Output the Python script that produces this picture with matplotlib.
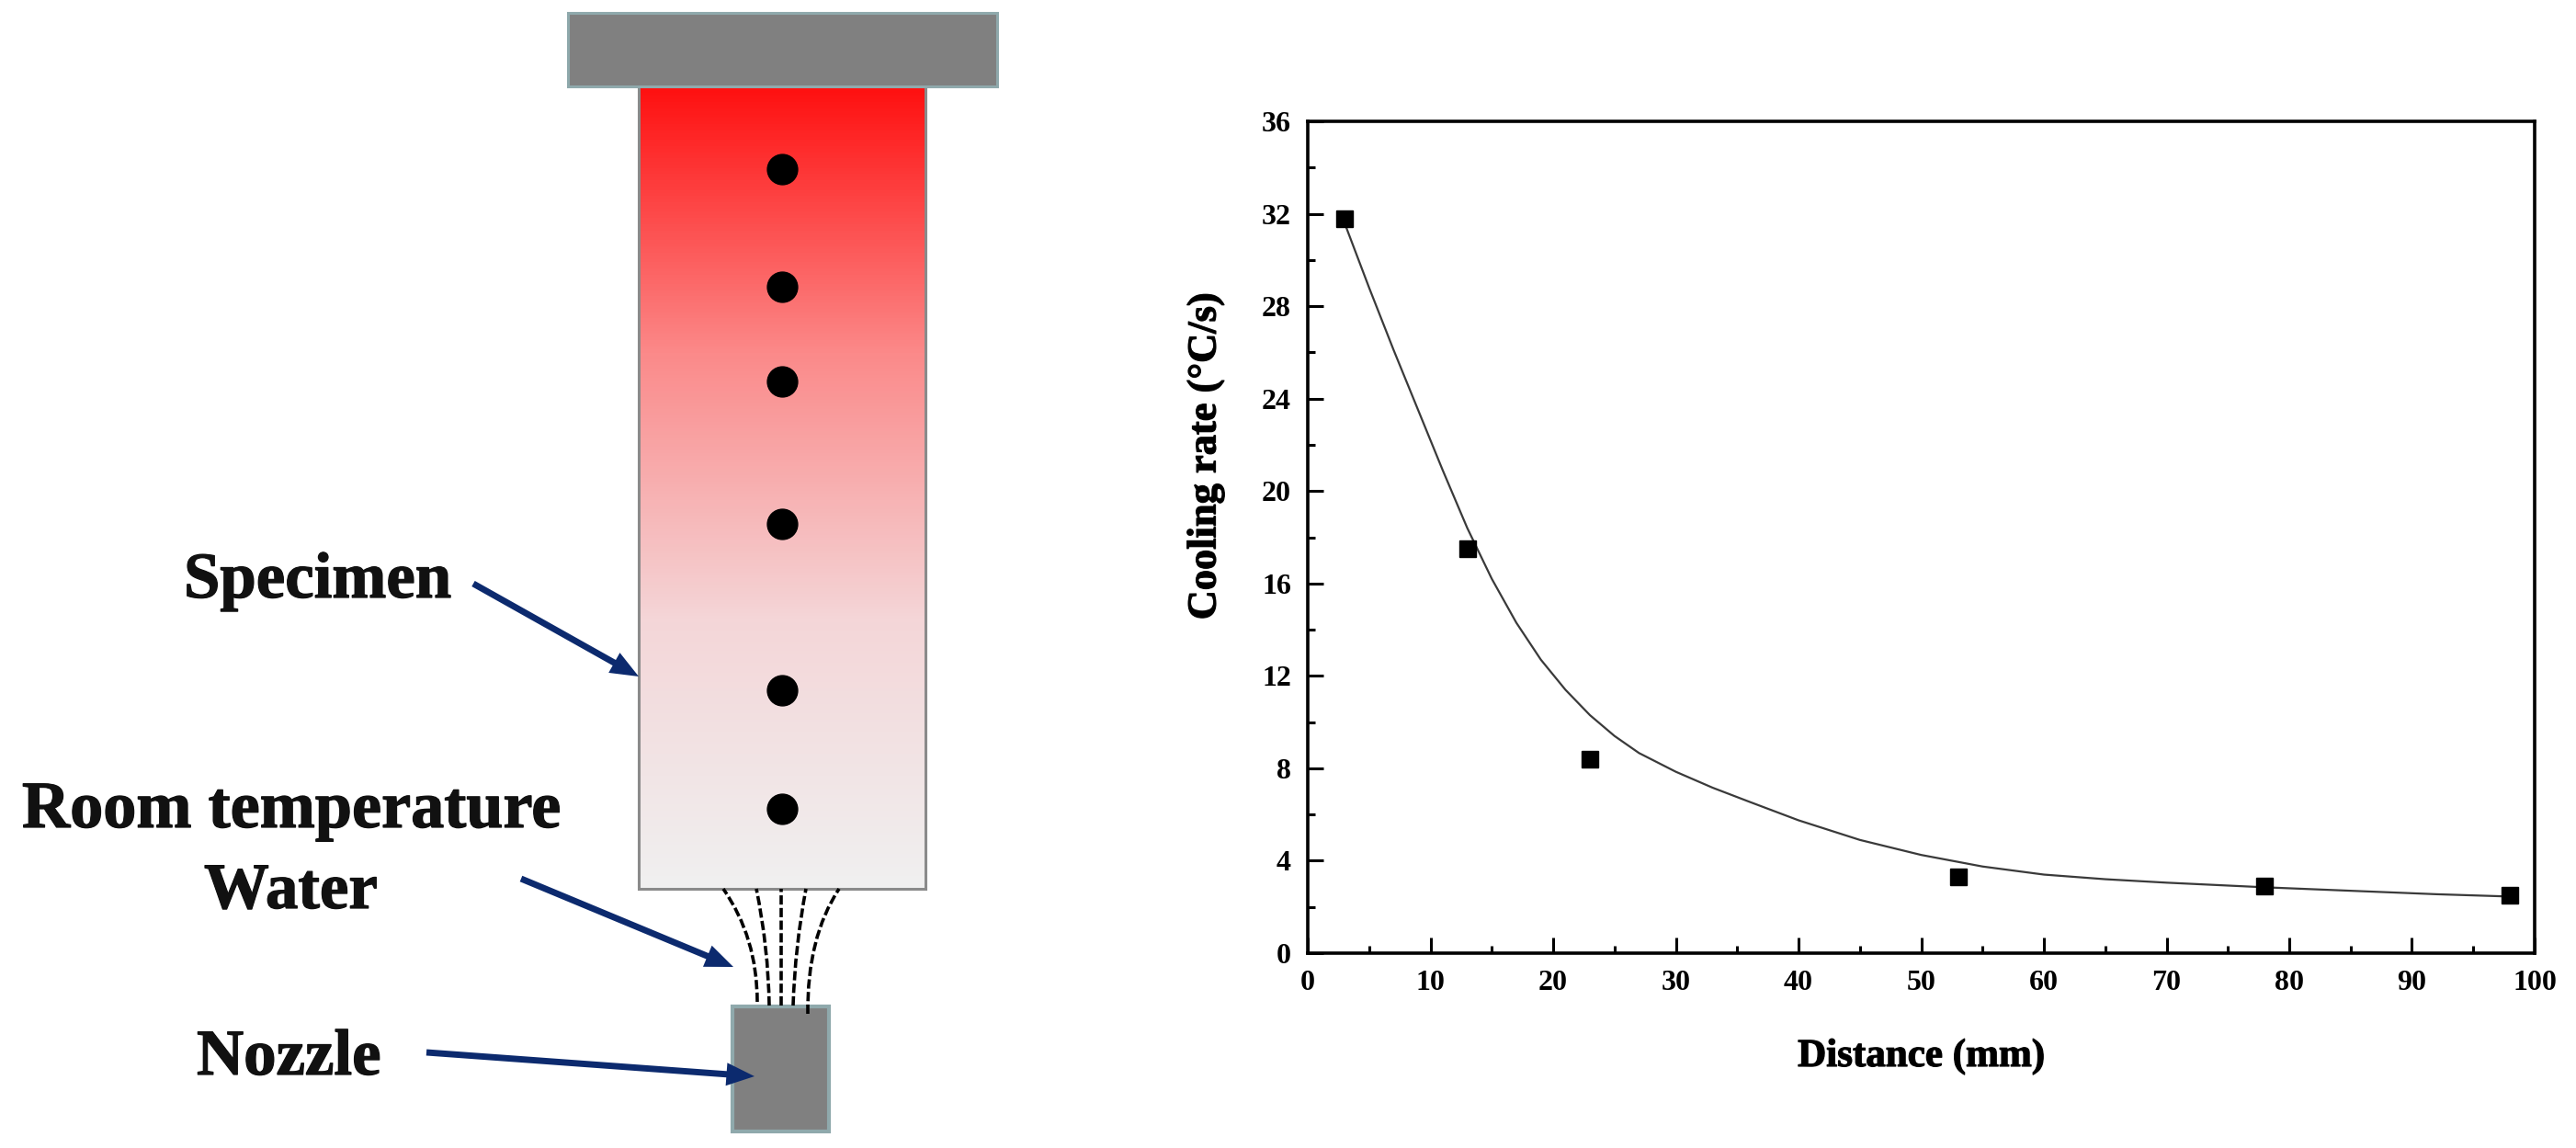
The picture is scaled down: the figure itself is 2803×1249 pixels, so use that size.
import numpy as np
import matplotlib
matplotlib.use("Agg")
import matplotlib.pyplot as plt
import matplotlib.patheffects as pe
from matplotlib.colors import LinearSegmentedColormap
from matplotlib.patches import Rectangle, PathPatch, FancyArrowPatch
from matplotlib.path import Path

plt.rcParams['font.family'] = ['Liberation Serif', 'DejaVu Serif']
plt.rcParams['font.weight'] = 'bold'

W, H = 2803, 1249

# measured cooling rate
distance = [3, 13, 23, 53, 78, 98]
cooling_rate = [31.8, 17.5, 8.4, 3.3, 2.9, 2.5]

# fitted curve
curve_x = [3, 5, 7, 9, 11, 13, 15, 17, 19, 21, 23, 25, 27, 30, 33, 36, 40,
           45, 50, 55, 60, 65, 70, 78, 85, 92, 98]
curve_y = [31.6, 28.8, 26.1, 23.5, 20.9, 18.4, 16.2, 14.3, 12.7, 11.4, 10.3, 9.4, 8.66,
           7.85, 7.16, 6.55, 5.75, 4.9, 4.25, 3.75, 3.4, 3.2, 3.05, 2.85, 2.7, 2.55, 2.45]

x_ticks = list(range(0, 101, 10))
y_ticks = list(range(0, 37, 4))

# thermocouple holes along the specimen, pixel rows
hole_rows = [184, 312, 415, 570, 751, 880]

fig = plt.figure(figsize=(W / 100, H / 100), dpi=100)

# left half is a schematic, drawn in pixel coordinates
sk = fig.add_axes([0, 0, 1, 1])
sk.set_xlim(0, W)
sk.set_ylim(H, 0)
sk.axis('off')

red_cm = LinearSegmentedColormap.from_list('heat', ['#ff1010', '#fb8a8a', '#f4d6d8', '#f0f0f0'], N=256)
sk.imshow(np.linspace(0, 1, 256).reshape(-1, 1), cmap=red_cm, aspect='auto',
          extent=[695, 1007, 967, 94], zorder=1)
sk.set_xlim(0, W)
sk.set_ylim(H, 0)
sk.add_patch(Rectangle((695, 94), 312, 873, fill=False, ec='#8a8a8a', lw=2.2, zorder=2))
sk.add_patch(Rectangle((618, 14), 467, 80, fc='#808080', ec='#8fa9ac', lw=2.2, zorder=3))
sk.add_patch(Rectangle((797, 1095), 105, 136, fc='#808080', ec='#8fa9ac', lw=3, zorder=3))

sk.scatter([851] * len(hole_rows), hole_rows, s=560, c='black', zorder=4)

# water jets, spreading from the nozzle to the specimen
jets = [(824, 1090, 824, 1020, 787, 967),
        (837, 1094, 836, 1030, 823, 967),
        (850, 1094, 850, 1030, 850, 967),
        (863, 1094, 865, 1030, 877, 967),
        (879, 1103, 878, 1020, 913, 967)]
for x0, y0, cx, cy, x1, y1 in jets:
    path = Path([(x0, y0), (cx, cy), (x1, y1)], [Path.MOVETO, Path.CURVE3, Path.CURVE3])
    sk.add_patch(PathPatch(path, fill=False, ec='black', lw=2.6, ls=(0, (2.8, 1.0)), zorder=5))

navy = '#0c2a6e'
arrows = [((515, 635), (695, 736)), ((567, 956), (798, 1052)), ((464, 1145), (821, 1171))]
for start, end in arrows:
    sk.add_patch(FancyArrowPatch(start, end, arrowstyle='simple,tail_width=0.5,head_width=1.8,head_length=2.2',
                                 mutation_scale=10, fc=navy, ec='none', lw=0, shrinkA=0, shrinkB=0, zorder=6))

heavy = [pe.withStroke(linewidth=0.9, foreground='#111111')]
sk.text(200, 650, 'Specimen', fontsize=51, color='#111111', path_effects=heavy)
sk.text(24, 900, 'Room temperature', fontsize=52, color='#111111', path_effects=heavy)
sk.text(222, 988, 'Water', fontsize=51, color='#111111', path_effects=heavy)
sk.text(214, 1169, 'Nozzle', fontsize=51, color='#111111', path_effects=heavy)

# right half is the actual chart
ax = fig.add_axes([1423 / W, 1 - 1037 / H, (2758 - 1423) / W, (1037 - 132) / H])
ax.plot(curve_x, curve_y, color='#3a3a3a', lw=1.6, zorder=2)
ax.plot(distance, cooling_rate, 's', color='black', ms=12.5, zorder=3)
ax.set_xlim(0, 100)
ax.set_ylim(0, 36)
ax.set_xticks(x_ticks)
ax.set_yticks(y_ticks)
ax.set_xticks(np.arange(5, 100, 10), minor=True)
ax.set_yticks(np.arange(2, 36, 4), minor=True)
ax.tick_params(which='major', direction='in', length=12, width=2.2, labelsize=23, pad=13)
ax.tick_params(which='minor', direction='in', length=6, width=2.2)
for s in ax.spines.values():
    s.set_linewidth(2.6)
ax.set_xlabel('Distance (mm)', fontsize=31, fontweight='bold', va='baseline', path_effects=heavy)
ax.xaxis.set_label_coords(0.5, (1037 - 1160) / 905)
ax.set_ylabel('Cooling rate (\u00b0C/s)', fontsize=32, fontweight='bold', path_effects=heavy)
ax.yaxis.set_label_coords((1332 - 1423) / 1335, (1037 - 496) / 905)

fig.savefig('out.png', dpi=100)
